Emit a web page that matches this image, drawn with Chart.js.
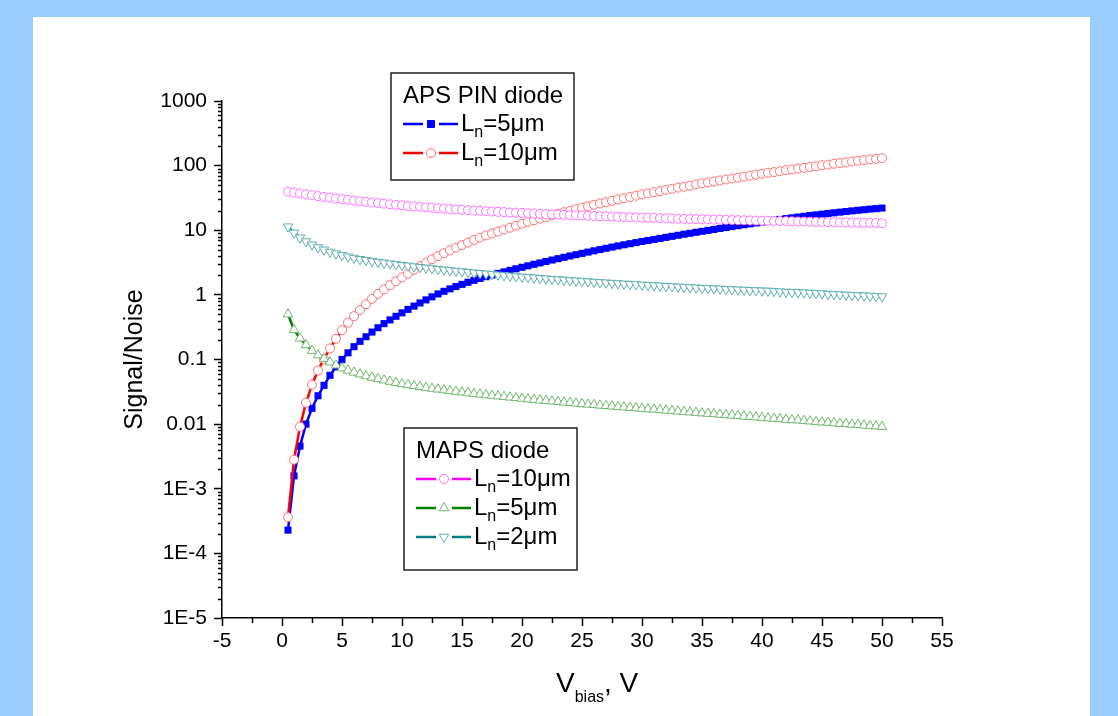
<!DOCTYPE html>
<html>
<head>
  <meta charset="UTF-8">
  <style>
    html, body { margin: 0; padding: 0; background: #99ccff; }
    canvas { display: block; }
  </style>
</head>
<body>
  <canvas id="snChart" width="1118" height="716"></canvas>

  <script src="https://cdn.jsdelivr.net/npm/chart.js@4.4.0/dist/chart.umd.min.js"></script>
  <script>
    // bias voltage, V (0.5 V steps)
    const vbias = [
      0.5, 1, 1.5, 2, 2.5, 3, 3.5, 4, 4.5, 5,
      5.5, 6, 6.5, 7, 7.5, 8, 8.5, 9, 9.5, 10,
      10.5, 11, 11.5, 12, 12.5, 13, 13.5, 14, 14.5, 15,
      15.5, 16, 16.5, 17, 17.5, 18, 18.5, 19, 19.5, 20,
      20.5, 21, 21.5, 22, 22.5, 23, 23.5, 24, 24.5, 25,
      25.5, 26, 26.5, 27, 27.5, 28, 28.5, 29, 29.5, 30,
      30.5, 31, 31.5, 32, 32.5, 33, 33.5, 34, 34.5, 35,
      35.5, 36, 36.5, 37, 37.5, 38, 38.5, 39, 39.5, 40,
      40.5, 41, 41.5, 42, 42.5, 43, 43.5, 44, 44.5, 45,
      45.5, 46, 46.5, 47, 47.5, 48, 48.5, 49, 49.5, 50
    ]

    // APS PIN diode, Ln = 5um
    const apsLn5 = [
      0.000229, 0.00158, 0.00457, 0.0100, 0.0176, 0.0275, 0.0398, 0.0569, 0.0771, 0.100,
      0.127, 0.158, 0.191, 0.225, 0.266, 0.310, 0.359, 0.410, 0.466, 0.527,
      0.596, 0.670, 0.750, 0.837, 0.933, 1.035, 1.135, 1.239, 1.346, 1.455,
      1.567, 1.679, 1.795, 1.910, 2.028, 2.148, 2.270, 2.399, 2.535, 2.673,
      2.818, 2.972, 3.126, 3.289, 3.459, 3.631, 3.811, 4.000, 4.188, 4.385,
      4.592, 4.808, 5.023, 5.248, 5.483, 5.715, 5.957, 6.194, 6.442, 6.699,
      6.950, 7.211, 7.482, 7.762, 8.054, 8.356, 8.670, 8.974, 9.290, 9.616,
      9.954, 10.30, 10.67, 11.02, 11.40, 11.78, 12.16, 12.56, 12.97, 13.40,
      13.80, 14.26, 14.69, 15.14, 15.56, 16.00, 16.44, 16.87, 17.30, 17.74,
      18.20, 18.62, 19.05, 19.50, 19.95, 20.37, 20.80, 21.23, 21.63, 22.03
    ]

    // APS PIN diode, Ln = 10um
    const apsLn10 = [
      0.000363, 0.00282, 0.00912, 0.0214, 0.0407, 0.0676, 0.102, 0.148, 0.209, 0.285,
      0.372, 0.468, 0.582, 0.716, 0.871, 1.035, 1.216, 1.413, 1.622, 1.862,
      2.138, 2.455, 2.786, 3.162, 3.548, 3.981, 4.416, 4.898, 5.370, 5.888,
      6.457, 7.079, 7.674, 8.318, 8.913, 9.55, 10.23, 10.96, 11.75, 12.59,
      13.49, 14.29, 15.14, 16.03, 16.98, 17.99, 19.05, 19.95, 21.13, 22.39,
      23.44, 24.83, 26.0, 27.2, 28.5, 29.9, 31.3, 32.7, 34.3, 35.9,
      37.2, 38.9, 40.3, 42.2, 43.7, 45.7, 47.3, 49.0, 51.3, 53.1,
      55.0, 56.9, 58.9, 61.0, 63.1, 65.3, 67.6, 70.0, 72.4, 75.0,
      77.6, 79.4, 82.2, 85.1, 87.1, 90.2, 92.3, 95.5, 97.7, 101.2,
      103.5, 107.2, 109.6, 112.2, 116.1, 118.9, 121.6, 124.5, 127.4, 130.3
    ]

    // MAPS diode, Ln = 10um
    const mapsLn10 = [
      39.5, 38.3, 37.1, 35.9, 34.8, 33.8, 32.8, 31.9, 31.0, 30.3,
      29.5, 28.8, 28.1, 27.5, 26.9, 26.3, 25.8, 25.2, 24.7, 24.3,
      23.8, 23.4, 23.0, 22.6, 22.3, 21.9, 21.6, 21.3, 21.0, 20.7,
      20.5, 20.2, 20.0, 19.7, 19.5, 19.3, 19.1, 18.8, 18.7, 18.5,
      18.3, 18.1, 17.9, 17.8, 17.6, 17.5, 17.3, 17.1, 17.0, 16.9,
      16.7, 16.6, 16.5, 16.4, 16.3, 16.1, 16.0, 15.9, 15.8, 15.7,
      15.6, 15.5, 15.4, 15.3, 15.2, 15.1, 15.0, 14.96, 14.86, 14.79,
      14.72, 14.62, 14.55, 14.49, 14.39, 14.32, 14.26, 14.19, 14.13, 14.06,
      14.00, 13.93, 13.87, 13.80, 13.74, 13.68, 13.61, 13.55, 13.49, 13.43,
      13.37, 13.30, 13.27, 13.21, 13.15, 13.09, 13.06, 13.00, 12.94, 12.88
    ]

    // MAPS diode, Ln = 5um
    const mapsLn5 = [
      0.501, 0.288, 0.213, 0.168, 0.137, 0.117, 0.102, 0.0908, 0.0813, 0.0736,
      0.0679, 0.0631, 0.0592, 0.0557, 0.0527, 0.0501, 0.0478, 0.0456, 0.0437, 0.0419,
      0.0405, 0.0391, 0.0378, 0.0366, 0.0356, 0.0346, 0.0337, 0.0327, 0.0319, 0.0311,
      0.0303, 0.0296, 0.0290, 0.0283, 0.0277, 0.0271, 0.0265, 0.0260, 0.0255, 0.0249,
      0.0244, 0.0239, 0.0234, 0.0230, 0.0226, 0.0222, 0.0218, 0.0214, 0.0210, 0.0206,
      0.0202, 0.0199, 0.0195, 0.0192, 0.0189, 0.0186, 0.0183, 0.0180, 0.0177, 0.0174,
      0.0171, 0.0169, 0.0166, 0.0163, 0.0161, 0.0158, 0.0156, 0.0153, 0.0151, 0.0148,
      0.0146, 0.0144, 0.0141, 0.0139, 0.0137, 0.0135, 0.0132, 0.0130, 0.0128, 0.0126,
      0.0124, 0.0122, 0.0120, 0.0118, 0.0116, 0.0115, 0.0113, 0.0111, 0.0109, 0.0107,
      0.0106, 0.0104, 0.0102, 0.0101, 0.0099, 0.0098, 0.0096, 0.0094, 0.0093, 0.0091
    ]

    // MAPS diode, Ln = 2um
    const mapsLn2 = [
      11.35, 9.12, 7.67, 6.68, 5.96, 5.41, 4.98, 4.62, 4.34, 4.09,
      3.89, 3.72, 3.56, 3.44, 3.32, 3.22, 3.13, 3.04, 2.96, 2.88,
      2.81, 2.74, 2.68, 2.62, 2.56, 2.50, 2.44, 2.39, 2.34, 2.30,
      2.25, 2.20, 2.16, 2.12, 2.08, 2.04, 2.00, 1.97, 1.93, 1.90,
      1.87, 1.84, 1.81, 1.78, 1.75, 1.73, 1.70, 1.67, 1.65, 1.63,
      1.61, 1.58, 1.56, 1.54, 1.52, 1.50, 1.48, 1.46, 1.45, 1.43,
      1.41, 1.40, 1.38, 1.36, 1.35, 1.33, 1.32, 1.30, 1.29, 1.27,
      1.26, 1.25, 1.24, 1.22, 1.21, 1.20, 1.19, 1.18, 1.17, 1.16,
      1.15, 1.14, 1.12, 1.11, 1.10, 1.09, 1.08, 1.07, 1.06, 1.05,
      1.03, 1.02, 1.01, 1.00, 0.99, 0.98, 0.97, 0.96, 0.95, 0.94
    ]

    const xTicks = [-5, 0, 5, 10, 15, 20, 25, 30, 35, 40, 45, 50, 55]
    const yTickValues = [1e-5, 1e-4, 1e-3, 0.01, 0.1, 1, 10, 100, 1000]
    const yTickLabels = ["1E-5", "1E-4", "1E-3", "0.01", "0.1", "1", "10", "100", "1000"]

    const FONT = '"Liberation Sans", Arial, sans-serif'

    function pts(values) {
      return vbias.map((v, i) => ({ x: v, y: values[i] }))
    }

    // legend rows: [line colour, marker style, marker colour, filled, text after subscript]
    const apsLegend = [
      ["#0000ff", "rect", "#0000ff", true, "=5\u03bcm"],
      ["#ff0000", "circle", "#ff7070", false, "=10\u03bcm"]
    ]
    const mapsLegend = [
      ["#ff00ff", "circle", "#ff70ff", false, "=10\u03bcm"],
      ["#008000", "up", "#70b870", false, "=5\u03bcm"],
      ["#008080", "down", "#60b0b0", false, "=2\u03bcm"]
    ]

    function drawMarker(c, style, x, y, color, filled) {
      c.save()
      c.strokeStyle = color
      c.fillStyle = filled ? color : "#ffffff"
      c.lineWidth = 1
      c.beginPath()
      if (style == "rect") c.rect(x - 3.5, y - 3.5, 7, 7)
      else if (style == "circle") c.arc(x, y, 4.5, 0, Math.PI * 2)
      else if (style == "up") { c.moveTo(x, y - 5.5); c.lineTo(x + 4.8, y + 2.8); c.lineTo(x - 4.8, y + 2.8); c.closePath() }
      else { c.moveTo(x, y + 5.5); c.lineTo(x + 4.8, y - 2.8); c.lineTo(x - 4.8, y - 2.8); c.closePath() }
      c.fill()
      c.stroke()
      c.restore()
    }

    function drawLegend(c, box, title, rows) {
      c.save()
      c.strokeStyle = "#222"
      c.lineWidth = 1.5
      c.strokeRect(box.x, box.y, box.w, box.h)
      c.fillStyle = "#000"
      c.textBaseline = "middle"
      c.font = "24px " + FONT
      c.fillText(title, box.x + 12, box.y + 23)
      rows.forEach((r, i) => {
        const y = box.y + 51 + i * 29
        const x0 = box.x + 12
        const mid = x0 + 28
        c.strokeStyle = r[0]
        c.lineWidth = 2.5
        c.beginPath()
        c.moveTo(x0, y)
        c.lineTo(mid - 8, y)
        c.moveTo(mid + 8, y)
        c.lineTo(x0 + 55, y)
        c.stroke()
        drawMarker(c, r[1], mid, y, r[2], r[3])
        c.fillStyle = "#000"
        c.font = "24px " + FONT
        c.fillText("L", x0 + 58, y)
        const lw = c.measureText("L").width
        c.font = "16px " + FONT
        c.fillText("n", x0 + 58 + lw, y + 9)
        const nw = c.measureText("n").width
        c.font = "24px " + FONT
        c.fillText(r[4], x0 + 58 + lw + nw, y)
      })
      c.restore()
    }

    const decor = {
      id: "decor",
      beforeDraw(chart) {
        const c = chart.ctx
        c.save()
        c.fillStyle = "#99ccff"
        c.fillRect(0, 0, chart.width, chart.height)
        c.fillStyle = "#ffffff"
        c.fillRect(33, 17, 1057, chart.height - 17)
        c.restore()
      },
      afterDraw(chart) {
        const c = chart.ctx
        const a = chart.chartArea
        const xs = chart.scales.x
        const ys = chart.scales.y
        c.save()
        // minor ticks
        c.strokeStyle = "#000"
        c.lineWidth = 1.5
        c.beginPath()
        for (let e = -5; e < 3; e++) {
          for (let k = 2; k < 10; k++) {
            const py = Math.round(ys.getPixelForValue(k * Math.pow(10, e))) + 0.5
            c.moveTo(a.left - 4, py)
            c.lineTo(a.left, py)
          }
        }
        for (let v = -2.5; v < 55; v += 5) {
          const px = Math.round(xs.getPixelForValue(v)) + 0.5
          c.moveTo(px, a.bottom)
          c.lineTo(px, a.bottom + 5)
        }
        c.stroke()

        // x axis title with subscript
        c.fillStyle = "#000"
        c.textBaseline = "alphabetic"
        let tx = a.left + 334
        const ty = a.bottom + 74
        c.font = "28px " + FONT
        c.fillText("V", tx, ty)
        tx += c.measureText("V").width
        c.font = "16px " + FONT
        c.fillText("bias", tx, ty + 10)
        tx += c.measureText("bias").width
        c.font = "28px " + FONT
        c.fillText(", V", tx, ty)
        c.restore()

        drawLegend(c, { x: a.left + 169, y: a.top - 28, w: 183, h: 107 }, "APS PIN diode", apsLegend)
        drawLegend(c, { x: a.left + 182, y: a.top + 327, w: 173, h: 142 }, "MAPS diode", mapsLegend)
      }
    }

    const ctx = document.getElementById("snChart").getContext("2d")

    const chart = new Chart(ctx, {
      type: "line",
      data: {
        datasets: [
          {
            label: "MAPS Ln=10um",
            data: pts(mapsLn10),
            borderColor: "#ff00ff",
            borderWidth: 2.5,
            pointStyle: "circle",
            pointRadius: 4.5,
            pointBorderWidth: 1,
            pointBorderColor: "#ff70ff",
            pointBackgroundColor: "#ffffff"
          },
          {
            label: "MAPS Ln=5um",
            data: pts(mapsLn5),
            borderColor: "#008000",
            borderWidth: 2.5,
            pointStyle: "triangle",
            pointRadius: 5.5,
            pointBorderWidth: 1,
            pointBorderColor: "#70b870",
            pointBackgroundColor: "#ffffff"
          },
          {
            label: "MAPS Ln=2um",
            data: pts(mapsLn2),
            borderColor: "#008080",
            borderWidth: 2.5,
            pointStyle: "triangle",
            pointRotation: 180,
            pointRadius: 5.5,
            pointBorderWidth: 1,
            pointBorderColor: "#60b0b0",
            pointBackgroundColor: "#ffffff"
          },
          {
            label: "APS Ln=10um",
            data: pts(apsLn10),
            borderColor: "#ff0000",
            borderWidth: 2.5,
            pointStyle: "circle",
            pointRadius: 4.5,
            pointBorderWidth: 1,
            pointBorderColor: "#ff7070",
            pointBackgroundColor: "#ffffff"
          },
          {
            label: "APS Ln=5um",
            data: pts(apsLn5),
            borderColor: "#0000ff",
            borderWidth: 2.5,
            pointStyle: "rect",
            pointRadius: 5,
            pointBorderWidth: 0,
            pointBackgroundColor: "#0000ff"
          }
        ]
      },
      options: {
        responsive: false,
        animation: false,
        devicePixelRatio: 1,
        layout: { padding: { left: 116, right: 176, top: 101, bottom: 48 } },
        elements: { line: { tension: 0 } },
        plugins: {
          legend: { display: false },
          tooltip: { enabled: false }
        },
        scales: {
          x: {
            type: "linear",
            min: -5,
            max: 55,
            afterBuildTicks: (s) => { s.ticks = xTicks.map(v => ({ value: v })) },
            afterFit: (s) => { s.height = 50 },
            ticks: { color: "#000", font: { family: FONT, size: 21 }, padding: 3, maxRotation: 0, autoSkip: false },
            grid: { drawOnChartArea: false, tickLength: 8, tickColor: "#000", tickWidth: 1.5 },
            border: { color: "#000", width: 1.5 }
          },
          y: {
            type: "logarithmic",
            min: 1e-5,
            max: 1000,
            afterBuildTicks: (s) => { s.ticks = yTickValues.map(v => ({ value: v })) },
            afterFit: (s) => { s.width = 106 },
            ticks: {
              color: "#000",
              font: { family: FONT, size: 21 },
              padding: 7,
              autoSkip: false,
              callback: (v) => {
                const i = yTickValues.findIndex(t => Math.abs(Math.log10(t) - Math.log10(v)) < 1e-6)
                return i >= 0 ? yTickLabels[i] : ""
              }
            },
            grid: { drawOnChartArea: false, tickLength: 8, tickColor: "#000", tickWidth: 1.5 },
            border: { color: "#000", width: 1.5 },
            title: { display: true, text: "Signal/Noise", color: "#000", font: { family: FONT, size: 25 } }
          }
        }
      },
      plugins: [decor]
    })
  </script>
</body>
</html>
